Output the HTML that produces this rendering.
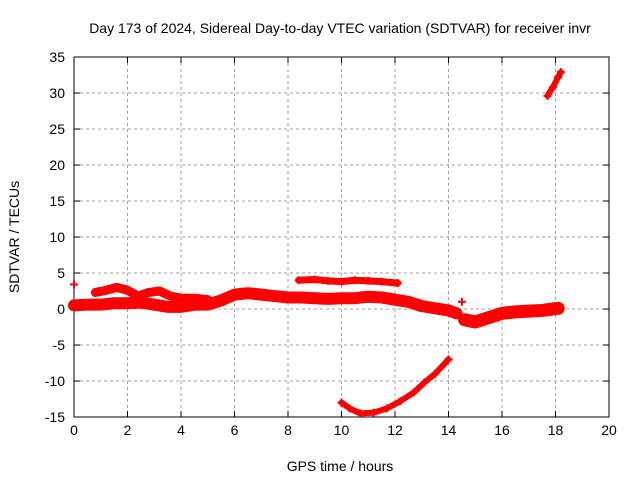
<!DOCTYPE html>
<html><head><meta charset="utf-8"><style>
body{margin:0;background:#fff;}
svg{display:block;font-family:"Liberation Sans",sans-serif;}
</style></head><body>
<svg id="c" width="640" height="480"></svg>
<script>
const xTicks=[0,2,4,6,8,10,12,14,16,18,20];
const yTicks=[-15,-10,-5,0,5,10,15,20,25,30,35];
const trackLower=[[0,0.5],[0.5,0.6],[1,0.6],[1.5,0.8],[2,0.8],[2.5,0.9],[3,0.6],[3.5,0.3],[4,0.3],[4.5,0.6],[5,0.6],[5.5,1.2],[6,2.0],[6.5,2.2],[7,2.0],[7.5,1.8],[8,1.6],[8.5,1.6],[9,1.5],[9.5,1.4],[10,1.5],[10.5,1.5],[11,1.7],[11.5,1.6],[12,1.3],[12.5,1.0],[13,0.4],[13.5,0.1],[14,-0.2],[14.3,-0.6]];
const trackUpper=[[0.8,2.3],[1.2,2.6],[1.6,3.0],[2.0,2.6],[2.4,1.8],[2.8,2.3],[3.2,2.5],[3.6,1.8],[4.0,1.5],[4.5,1.5],[5.0,1.3]];
const trackHigh=[[8.4,4.0],[9,4.1],[9.5,3.9],[10,3.8],[10.5,4.0],[11,3.9],[11.5,3.8],[12.1,3.6]];
const trackLate=[[14.6,-1.5],[15,-1.8],[15.5,-1.2],[16,-0.6],[16.5,-0.4],[17,-0.3],[17.5,-0.2],[18.1,0.1]];
const trackDip=[[10,-13],[10.3,-13.8],[10.7,-14.5],[11.2,-14.4],[11.7,-13.8],[12.2,-12.8],[12.7,-11.6],[13.1,-10.2],[13.5,-9.0],[14,-7]];
const trackTop=[[17.7,29.6],[17.9,30.8],[18.1,32.2],[18.2,32.9]];
const singles=[[0,3.4],[14.5,1]];
const L=74,R=609,T=57,B=417;
const X=v=>L+(v-0)/(20-0)*(R-L);
const Y=v=>B-(v+15)/(50)*(B-T);
const svg=document.getElementById('c');
const NS='http://www.w3.org/2000/svg';
function mk(t,a){const e=document.createElementNS(NS,t);for(const k in a)e.setAttribute(k,a[k]);svg.appendChild(e);return e;}
xTicks.forEach(v=>{const x=X(v);
 if(v>0&&v<20){const g=mk('line',{x1:x,x2:x,y1:T,y2:B,stroke:'#a0a0a0','stroke-dasharray':'3,3'});
 
 }
 mk('line',{x1:x,x2:x,y1:B,y2:B-6,stroke:'#000'});mk('line',{x1:x,x2:x,y1:T,y2:T+6,stroke:'#000'});
 const t=mk('text',{x:x,y:B+18,'text-anchor':'middle','font-size':14});t.textContent=v;
 
 });
yTicks.forEach(v=>{const y=Y(v);
 if(v>-15&&v<35){const g=mk('line',{x1:L,x2:R,y1:y,y2:y,stroke:'#a0a0a0','stroke-dasharray':'3,3'});
 
 }
 mk('line',{x1:L,x2:L+6,y1:y,y2:y,stroke:'#000'});mk('line',{x1:R,x2:R-6,y1:y,y2:y,stroke:'#000'});
 const t=mk('text',{x:L-9,y:y+5,'text-anchor':'end','font-size':14});t.textContent=v;
 
 });
const fr=mk('rect',{x:L,y:T,width:R-L,height:B-T,fill:'none',stroke:'#000'});


function track(pts,w,name){
 const p=mk('polyline',{points:pts.map(d=>X(d[0])+','+Y(d[1])).join(' '),fill:'none',stroke:'#f00','stroke-width':w,'stroke-linejoin':'round','stroke-linecap':'round'});
 
 
 pts.forEach(d=>{const x=X(d[0]),y=Y(d[1]);
  const m=mk('path',{d:`M${x-4},${y}h8M${x},${y-4}v8`,stroke:'#f00','stroke-width':2});
  
  });
}
track(trackLower,12,'series-lower-band');
track(trackUpper,9,'series-upper-band');
track(trackHigh,7,'series-high-band');
track(trackLate,13,'series-late-band');
track(trackDip,6,'series-dip');
track(trackTop,6,'series-top');
singles.forEach(d=>{const x=X(d[0]),y=Y(d[1]);
 const m=mk('path',{d:`M${x-4},${y}h8M${x},${y-4}v8`,stroke:'#f00','stroke-width':2});
 
 });
const tt=mk('text',{x:340,y:33,'text-anchor':'middle','font-size':14});tt.textContent='Day 173 of 2024, Sidereal Day-to-day VTEC variation (SDTVAR) for receiver invr';


const xt=mk('text',{x:340,y:471,'text-anchor':'middle','font-size':14});xt.textContent='GPS time / hours';


const yt=mk('text',{x:0,y:0,'text-anchor':'middle','font-size':14,transform:'translate(19,237) rotate(-90)'});yt.textContent='SDTVAR / TECUs';


</script>
</body></html>
